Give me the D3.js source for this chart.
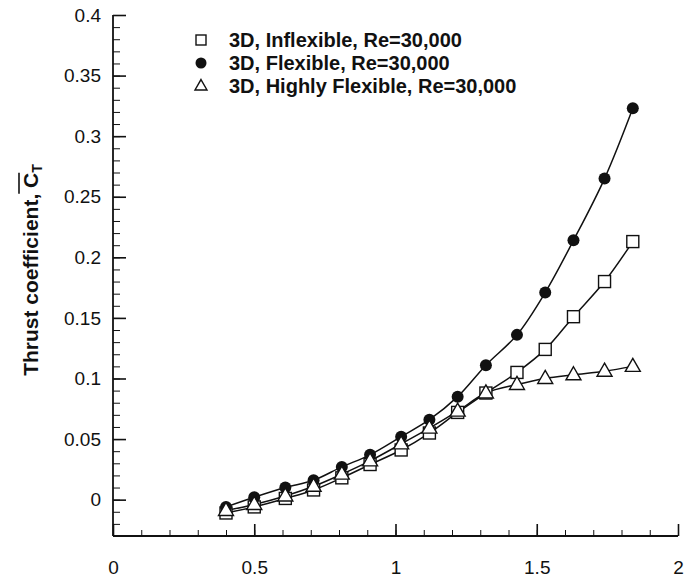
<!DOCTYPE html>
<html>
<head>
<meta charset="utf-8">
<script src="https://cdn.jsdelivr.net/npm/d3@7"></script>
<style>
  html, body { margin: 0; padding: 0; background: #fff; }
  svg { display: block; font-family: "Liberation Sans", Arial, Helvetica, sans-serif; }
</style>
</head>
<body>
<svg id="chart" width="688" height="581"></svg>
<script>
// ---- data ----
const xValues = [0.40, 0.50, 0.61, 0.71, 0.81, 0.91, 1.02, 1.12, 1.22, 1.32, 1.43, 1.53, 1.63, 1.74, 1.84];
const inflexible = [-0.011, -0.006, 0.001, 0.008, 0.018, 0.029, 0.041, 0.055, 0.072, 0.088, 0.105, 0.124, 0.151, 0.180, 0.213];
const flexible = [-0.006, 0.002, 0.010, 0.016, 0.027, 0.037, 0.052, 0.066, 0.085, 0.111, 0.136, 0.171, 0.214, 0.265, 0.323];
const highlyFlexible = [-0.009, -0.004, 0.003, 0.011, 0.021, 0.032, 0.046, 0.059, 0.073, 0.088, 0.095, 0.100, 0.103, 0.106, 0.110];
const seriesNames = ["3D, Inflexible, Re=30,000", "3D, Flexible, Re=30,000", "3D, Highly Flexible, Re=30,000"];
const xTicks = [0, 0.5, 1, 1.5, 2];
const yTicks = [0, 0.05, 0.1, 0.15, 0.2, 0.25, 0.3, 0.35, 0.4];
const xTickLabels = ["0", "0.5", "1", "1.5", "2"];
const yTickLabels = ["0", "0.05", "0.1", "0.15", "0.2", "0.25", "0.3", "0.35", "0.4"];

// ---- layout ----
const svg = d3.select("#chart");
const mLeft = 113, mRight = 678, mTop = 15, mBottom = 536;
const x = d3.scaleLinear().domain([0, 2]).range([mLeft, mRight]);
const y = d3.scaleLinear().domain([-0.03, 0.4]).range([mBottom, mTop]);
const ink = "#111";

// minor ticks
const xMinor = d3.range(0, 2.0001, 0.1).map(v => +v.toFixed(2));
const yMinor = d3.range(-0.03, 0.4001, 0.01).map(v => +v.toFixed(3));

const gx = svg.append("g").attr("transform", `translate(0,${mBottom})`);
gx.call(d3.axisBottom(x).tickValues(xMinor).tickSize(-6).tickFormat(""));
gx.selectAll(".tick line").attr("stroke", ink).attr("stroke-width", 1);
const gxMaj = svg.append("g").attr("transform", `translate(0,${mBottom})`);
gxMaj.call(d3.axisBottom(x).tickValues(xTicks).tickSize(-12).tickPadding(0)
  .tickFormat((d, i) => xTickLabels[i]));
gxMaj.selectAll(".tick line").attr("stroke", ink).attr("stroke-width", 1.6);
gxMaj.selectAll(".tick text").attr("fill", ink).attr("font-size", 19)
  .attr("dy", null).attr("y", 38);
gxMaj.select(".domain").remove();
gx.select(".domain").attr("stroke", ink).attr("stroke-width", 1.8).attr("d", `M${mLeft},0H${mRight}`);

const gy = svg.append("g").attr("transform", `translate(${mLeft},0)`);
gy.call(d3.axisLeft(y).tickValues(yMinor).tickSize(-7).tickFormat(""));
gy.selectAll(".tick line").attr("stroke", ink).attr("stroke-width", 1);
const gyMaj = svg.append("g").attr("transform", `translate(${mLeft},0)`);
gyMaj.call(d3.axisLeft(y).tickValues(yTicks).tickSize(-13).tickPadding(0)
  .tickFormat((d, i) => yTickLabels[i]));
gyMaj.selectAll(".tick line").attr("stroke", ink).attr("stroke-width", 1.6);
gyMaj.selectAll(".tick text").attr("fill", ink).attr("font-size", 19).attr("x", -12);
gyMaj.select(".domain").remove();
gy.select(".domain").attr("stroke", ink).attr("stroke-width", 1.8).attr("d", `M0,${mBottom}V${mTop}`);
svg.selectAll(".tick text").attr("font-family", "'Liberation Sans', Arial, sans-serif");

// ---- y axis title ----
const titleG = svg.append("g").attr("transform", "translate(38,270) rotate(-90)");
const title = titleG.append("text").attr("font-size", 21).attr("font-weight", "bold")
  .attr("fill", ink).attr("text-anchor", "start");
title.append("tspan").text("Thrust coefficient, ");
title.append("tspan").text("C");
title.append("tspan").attr("font-size", 14).attr("dy", 4).text("T");
const tw = title.node().getComputedTextLength();
title.attr("x", -tw / 2);
{
  const n = title.node();
  const startC = n.getStartPositionOfChar(19);
  const endT = n.getEndPositionOfChar(20);
  titleG.append("line").attr("x1", startC.x).attr("x2", endT.x)
    .attr("y1", -19).attr("y2", -19).attr("stroke", ink).attr("stroke-width", 1.6);
}

// ---- lines & markers ----
const line = d3.line().x(d => x(d[0])).y(d => y(d[1])).curve(d3.curveCatmullRom.alpha(0.5));
const allSeries = [inflexible, flexible, highlyFlexible];
const plot = svg.append("g");

function drawMarker(g, type, cx, cy, s) {
  if (type === 0) {
    g.append("rect").attr("x", cx - s / 2).attr("y", cy - s / 2).attr("width", s).attr("height", s)
      .attr("fill", "#fff").attr("stroke", ink).attr("stroke-width", 1.4);
  } else if (type === 1) {
    g.append("circle").attr("cx", cx).attr("cy", cy).attr("r", s / 2).attr("fill", ink);
  } else {
    const h = s * 0.87;
    g.append("path").attr("d", `M${cx},${cy - h * 0.62}L${cx + s / 2},${cy + h * 0.38}L${cx - s / 2},${cy + h * 0.38}Z`)
      .attr("fill", "#fff").attr("stroke", ink).attr("stroke-width", 1.4);
  }
}

allSeries.forEach((vals, si) => {
  const pts = xValues.map((xv, i) => [xv, vals[i]]);
  plot.append("path").attr("d", line(pts)).attr("fill", "none").attr("stroke", ink).attr("stroke-width", 1.5);
});
const sizes = [12, 12, 15];
allSeries.forEach((vals, si) => {
  const g = plot.append("g");
  xValues.forEach((xv, i) => drawMarker(g, si, x(xv), y(vals[i]), sizes[si]));
});

// ---- legend ----
const legendRows = [40, 63, 86];
const leg = svg.append("g");
seriesNames.forEach((name, i) => {
  drawMarker(leg, i, 201, legendRows[i], [10, 11, 12][i]);
  leg.append("text").attr("x", 229).attr("y", legendRows[i]).attr("dy", "0.36em")
    .attr("font-size", 20).attr("font-weight", "bold").attr("fill", ink).text(name);
});
</script>
</body>
</html>
